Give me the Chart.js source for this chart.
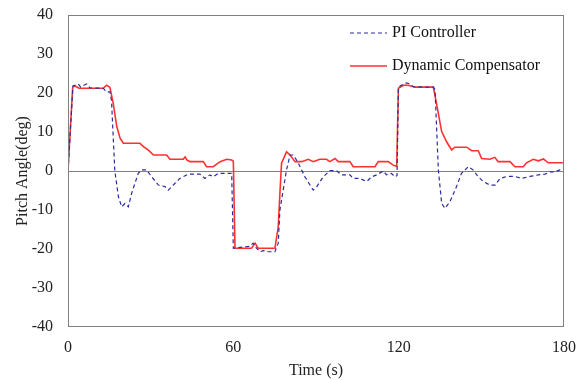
<!DOCTYPE html>
<html>
<head>
<meta charset="utf-8">
<title>Pitch Angle</title>
<script src="https://cdn.jsdelivr.net/npm/chart.js@4.4.0/dist/chart.umd.min.js"></script>
<style>
    html, body { margin: 0; padding: 0; background: #fff; }
    #wrap { width: 579px; height: 380px; position: relative; }
</style>
</head>
<body>
<div id="wrap"><canvas id="pitchChart"></canvas></div>
<script>
// Time (s) and pitch angle (deg)
const piTime = [0, 1.8, 3.7, 4.6, 5.7, 6.8, 8, 12.8, 14, 15.2, 15.8, 16.4, 17, 18.3, 19.5, 20.7, 21.9, 23.1, 25.5, 26.7,
    28.5, 30.4, 32.8, 35.2, 36.4, 38.2, 40.6, 43.7, 47.9, 49.7, 51.5, 52.7, 54.5, 59.4, 60, 66, 67.2, 68.4, 69.7, 70.9,
    72.7, 75.1, 76.3, 76.9, 78.1, 79.3, 80.6, 81.8, 83.6, 86, 89, 90.2, 92.6, 95, 97.4, 99.3, 102.3, 103.5, 105.9, 108.4,
    110.2, 112, 114.4, 115.6, 117.4, 118.6, 119.4, 119.9, 121, 122.9, 124.1, 125.3, 132.6, 133.2, 134.4, 135.6, 136.8, 138.6, 141, 142.8,
    145.3, 147, 148.9, 150.7, 153.1, 155, 156.8, 159.3, 162.2, 164.6, 167.6, 170.7, 173.1, 174.9, 176.7, 178.5, 180];
const piPitch = [0, 21.8, 22.3, 21.5, 22, 22.3, 21.3, 21.2, 20.3, 20.3, 18, 8.8, 0, -6.6, -9.2, -8.3, -9.2, -5.7, -0.6, 0.3,
    0.3, -1.5, -3.6, -4.0, -4.9, -3.6, -1.9, -0.8, -0.8, -1.9, -1.0, -1.5, -0.6, -0.6, -19.8, -19.3, -18.5, -19.8, -20.7, -20.4,
    -20.7, -20.7, -18.5, -10, -4.9, 0.3, 4.1, 4.1, 2, -1.5, -4.9, -4.1, -1.5, 0.1, 0.1, -1.0, -1.0, -1.9, -1.9, -2.7,
    -1.5, -1.0, 0, -1, -0.6, -1.5, -1.2, 21.5, 22, 22.6, 22.3, 21.6, 21.5, 20.8, 0.3, -8.3, -9.6, -7.9, -4, -0.6,
    1.1, 0.3, -1.5, -2.7, -3.6, -3.6, -1.9, -1.4, -1.4, -1.9, -1.4, -1.0, -0.8, -0.2, -0.2, 0.3, 0.3];

const dcTime = [0, 1.7, 2.5, 4, 12.8, 14, 15.2, 16.4, 17.7, 18.9, 20.1, 26.1, 27.5, 29.1, 31, 35.8, 37, 41.8, 42.5, 43.2,
    44.3, 49.1, 50.3, 52.7, 55.2, 57.6, 59.4, 60, 60.6, 66.6, 67.9, 69, 75.1, 76.3, 76.9, 77.5, 79.3, 80.6, 82.4, 84.8,
    87.2, 89, 91.4, 93.8, 95, 96.9, 98.1, 102.3, 103.5, 111.4, 112.6, 116.2, 118, 119.3, 119.9, 121.7, 123.5, 125.9, 132.6, 134.4,
    135.6, 137.4, 139.2, 140.4, 144.7, 146.5, 148.9, 150.1, 153.1, 154.9, 156.1, 160.4, 162.2, 165.2, 166.4, 168.8, 170.7, 172.5, 174.3, 178.5,
    180];
const dcPitch = [0, 21.5, 21.8, 21.2, 21.2, 22, 21.5, 17.4, 11.4, 8.4, 7.1, 7.1, 6.2, 5.4, 4.1, 4.1, 3.0, 3.0, 3.6, 2.8,
    2.4, 2.4, 1.1, 1.1, 2.4, 3.0, 2.8, 2.5, -19.8, -19.8, -18.5, -19.8, -19.8, -14.3, -5.7, 2, 4.9, 4.1, 2.4, 2.4,
    3.0, 2.4, 3.0, 3.0, 2.4, 3.2, 2.4, 2.4, 1.1, 1.1, 2.4, 2.4, 1.5, 1.2, 21.2, 22, 22, 21.5, 21.5, 14.8,
    10.1, 7.5, 5.4, 6.1, 6.1, 5.2, 5.2, 3.2, 3.0, 3.5, 2.4, 2.4, 1.1, 1.1, 2.1, 3.0, 2.6, 3.1, 2.1, 2.1,
    2.1];

const xTicks = [0, 60, 120, 180];
const seriesNames = ['PI Controller', 'Dynamic Compensator'];

document.addEventListener('DOMContentLoaded', function () {

    const serif = '"Liberation Serif", "Times New Roman", serif';

    function toPoints(times, values) {
        return times.map((t, i) => ({ x: t, y: values[i] }));
    }

    // box round the plot area + legend inside it (top right)
    const framePlugin = {
        id: 'frame',
        afterDraw(chart) {
            const { ctx, chartArea } = chart;
            ctx.save();
            ctx.strokeStyle = '#808080';
            ctx.lineWidth = 1;
            ctx.strokeRect(chartArea.left + 0.5, chartArea.top + 0.5,
                chartArea.right - chartArea.left - 1, chartArea.bottom - chartArea.top - 1);

            ctx.font = '16px ' + serif;
            ctx.textBaseline = 'middle';
            ctx.fillStyle = '#111';
            chart.data.datasets.forEach((ds, i) => {
                const y = chartArea.top + 18 + i * 33;
                const x0 = chartArea.right - 214;
                ctx.beginPath();
                ctx.strokeStyle = ds.borderColor;
                ctx.lineWidth = ds.borderWidth;
                ctx.setLineDash(ds.borderDash || []);
                ctx.moveTo(x0, y);
                ctx.lineTo(x0 + 37, y);
                ctx.stroke();
                ctx.setLineDash([]);
                ctx.fillText(ds.label, x0 + 42, y);
            });
            ctx.restore();
        }
    };

    const ctx = document.getElementById('pitchChart').getContext('2d');
    new Chart(ctx, {
        type: 'line',
        data: {
            datasets: [
                {
                    label: seriesNames[0],
                    data: toPoints(piTime, piPitch),
                    borderColor: '#2d2d9c',
                    borderWidth: 1.2,
                    borderDash: [4, 3],
                    pointRadius: 0,
                    tension: 0,
                    fill: false
                },
                {
                    label: seriesNames[1],
                    data: toPoints(dcTime, dcPitch),
                    borderColor: '#ff3030',
                    borderWidth: 1.6,
                    pointRadius: 0,
                    tension: 0,
                    fill: false
                }
            ]
        },
        options: {
            responsive: true,
            maintainAspectRatio: false,
            animation: false,
            layout: { padding: { left: 0, top: 15, right: 15, bottom: 0 } },
            plugins: {
                legend: { display: false },
                tooltip: { enabled: false }
            },
            scales: {
                x: {
                    type: 'linear',
                    min: 0,
                    max: 180,
                    afterBuildTicks: function (scale) {
                        scale.ticks = xTicks.map(v => ({ value: v }));
                    },
                    afterFit: function (scale) {
                        scale.height = 53;
                        scale.paddingLeft = 0;
                        scale.paddingRight = 0;
                    },
                    grid: { display: false, drawTicks: false },
                    border: { display: false },
                    ticks: {
                        padding: 11,
                        color: '#222',
                        font: { family: serif, size: 16 },
                        maxRotation: 0
                    },
                    title: {
                        display: true,
                        text: 'Time (s)',
                        color: '#222',
                        font: { family: serif, size: 16 },
                        padding: { top: 2, bottom: 0 }
                    }
                },
                y: {
                    min: -40,
                    max: 40,
                    afterFit: function (scale) {
                        scale.width = 68;
                        scale.paddingTop = 0;
                        scale.paddingBottom = 0;
                    },
                    grid: {
                        drawTicks: false,
                        color: c => c.tick.value === 0 ? '#808080' : 'rgba(0,0,0,0)'
                    },
                    border: { display: false },
                    ticks: {
                        stepSize: 10,
                        padding: 15,
                        color: '#222',
                        font: { family: serif, size: 16 }
                    },
                    title: {
                        display: true,
                        text: 'Pitch Angle(deg)',
                        color: '#222',
                        font: { family: serif, size: 16 },
                        padding: { top: 13, bottom: 0 }
                    }
                }
            }
        },
        plugins: [framePlugin]
    });
});
</script>
</body>
</html>
